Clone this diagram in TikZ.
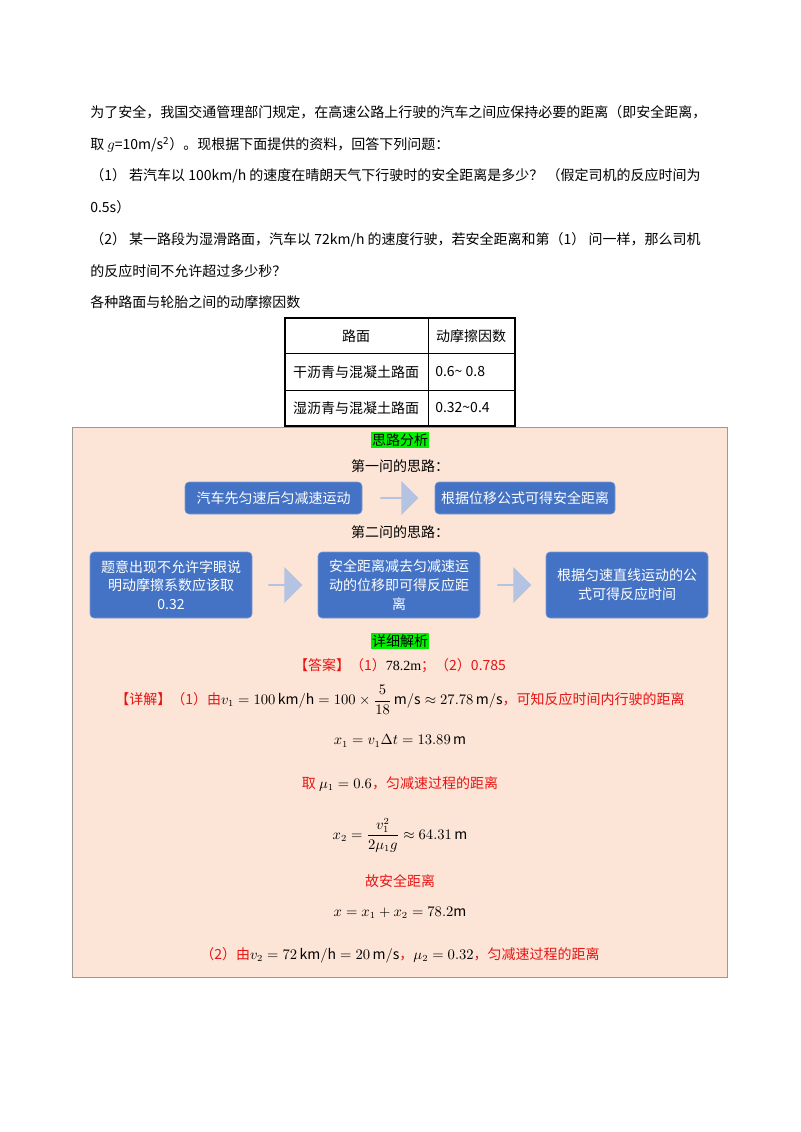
\documentclass[tikz,border=0pt]{standalone}
\usepackage{fontspec}
\setmainfont{Noto Sans CJK SC}
\newfontfamily\numf{Liberation Serif}
\usepackage{amsmath}
\usetikzlibrary{shapes.arrows}
\definecolor{bg}{RGB}{252,229,214}
\definecolor{bx}{RGB}{68,114,196}
\definecolor{ar}{RGB}{180,195,225}
\definecolor{rd}{RGB}{230,20,20}
\definecolor{gr}{RGB}{0,240,0}
\tikzset{
 txt/.style={anchor=west,inner sep=0pt,font=\fontsize{10.5}{12}\selectfont},
 ctr/.style={inner sep=0pt,font=\fontsize{10.5}{12}\selectfont},
 red/.style={ctr,text=rd},
 flow/.style={draw=bx!70!white,fill=bx,rounded corners=3pt,text=white,align=center,font=\fontsize{10.5}{14}\selectfont,inner sep=2pt},
 hl/.style={fill=gr,inner sep=1pt,font=\fontsize{10.5}{12}\selectfont},
 cell/.style={font=\fontsize{10.5}{12}\selectfont,anchor=west,inner sep=0pt},
 arr/.style={single arrow,fill=ar,single arrow head extend=4pt,inner sep=0pt}
}
\begin{document}
\begin{tikzpicture}[x=0.75pt,y=-0.75pt]
\useasboundingbox (0,0) rectangle (800,1132);
\fill[white] (0,0) rectangle (800,1132);
\node[txt] (l1) at (90,112) {为了安全，我国交通管理部门规定，在高速公路上行驶的汽车之间应保持必要的距离（即安全距离，};
\node[txt] (l2) at (90,145) {取 $g$=10m/s\textsuperscript{2}）。现根据下面提供的资料，回答下列问题：};
\node[txt] (l3) at (90,176) {（1） 若汽车以 100km/h 的速度在晴朗天气下行驶时的安全距离是多少？ （假定司机的反应时间为};
\node[txt] (l4) at (90,207) {0.5s）};
\node[txt] (l5) at (90,240) {（2） 某一路段为湿滑路面，汽车以 72km/h 的速度行驶，若安全距离和第（1） 问一样，那么司机};
\node[txt] (l6) at (90,271) {的反应时间不允许超过多少秒？};
\node[txt] (l7) at (90,302) {各种路面与轮胎之间的动摩擦因数};
% table
\draw[thick] (285,318) rectangle (515,426);
\draw (428,318) -- (428,426);
\draw (285,353) -- (515,353);
\draw (285,390) -- (515,390);
\node[ctr] (h1) at (356,336) {路面};
\node[ctr] (h2) at (471,336) {动摩擦因数};
\node[ctr] (r1) at (356,372) {干沥青与混凝土路面};
\node[cell] (v1) at (435,372) {0.6\textasciitilde{} 0.8};
\node[ctr] (r2) at (356,408) {湿沥青与混凝土路面};
\node[cell] (v2) at (435,408) {0.32\textasciitilde0.4};
% main box
\draw[fill=bg,draw=gray!80] (72,427) rectangle (727,977);
\node[hl] (t1) at (400,440) {思路分析};
\node[ctr] (q1) at (400,466) {第一问的思路：};
\node[flow,minimum width=177*0.75pt,minimum height=32*0.75pt] (a1) at (273.5,498) {汽车先匀速后匀减速运动};
\node[flow,minimum width=180*0.75pt,minimum height=32*0.75pt] (a2) at (525,498) {根据位移公式可得安全距离};
\node[arr,minimum height=38*0.75pt,minimum width=34*0.75pt] (ar1) at (399,498) {};
\node[ctr] (q2) at (400,532) {第二问的思路：};
\node[flow,minimum width=162*0.75pt,minimum height=66*0.75pt] (b1) at (171,585) {题意出现不允许字眼说\\明动摩擦系数应该取\\0.32};
\node[flow,minimum width=162*0.75pt,minimum height=66*0.75pt] (b2) at (399,585) {安全距离减去匀减速运\\动的位移即可得反应距\\离};
\node[flow,minimum width=162*0.75pt,minimum height=66*0.75pt] (b3) at (627,585) {根据匀速直线运动的公\\式可得反应时间};
\node[arr,minimum height=34*0.75pt,minimum width=36*0.75pt] (ar2) at (285,585) {};
\node[arr,minimum height=34*0.75pt,minimum width=36*0.75pt] (ar3) at (514,585) {};
\node[hl] (t2) at (400,641) {详细解析};
\node[red] (ans) at (400,666) {【答案】（1）{\color{black}\numf 78.2m}；（2）0.785};
\node[red] (d1) at (400,700) {【详解】（1）由{\color{black}$v_1=100\,\mathrm{km/h}=100\times\dfrac{5}{18}\,\mathrm{m/s}\approx27.78\,\mathrm{m/s}$}，可知反应时间内行驶的距离};
\node[ctr] (d2) at (400,741) {$x_1=v_1\Delta t=13.89\,\mathrm{m}$};
\node[red] (d3) at (400,784) {取 {\color{black}$\mu_1=0.6$}，匀减速过程的距离};
\node[ctr] (d4) at (400,835) {$x_2=\dfrac{v_1^2}{2\mu_1 g}\approx64.31\,\mathrm{m}$};
\node[red] (d5) at (400,881) {故安全距离};
\node[ctr] (d6) at (400,913) {$x=x_1+x_2=78.2\mathrm{m}$};
\node[red] (d7) at (400,955) {（2）由{\color{black}$v_2=72\,\mathrm{km/h}=20\,\mathrm{m/s}$}，{\color{black}$\mu_2=0.32$}，匀减速过程的距离};
\end{tikzpicture}
\end{document}
